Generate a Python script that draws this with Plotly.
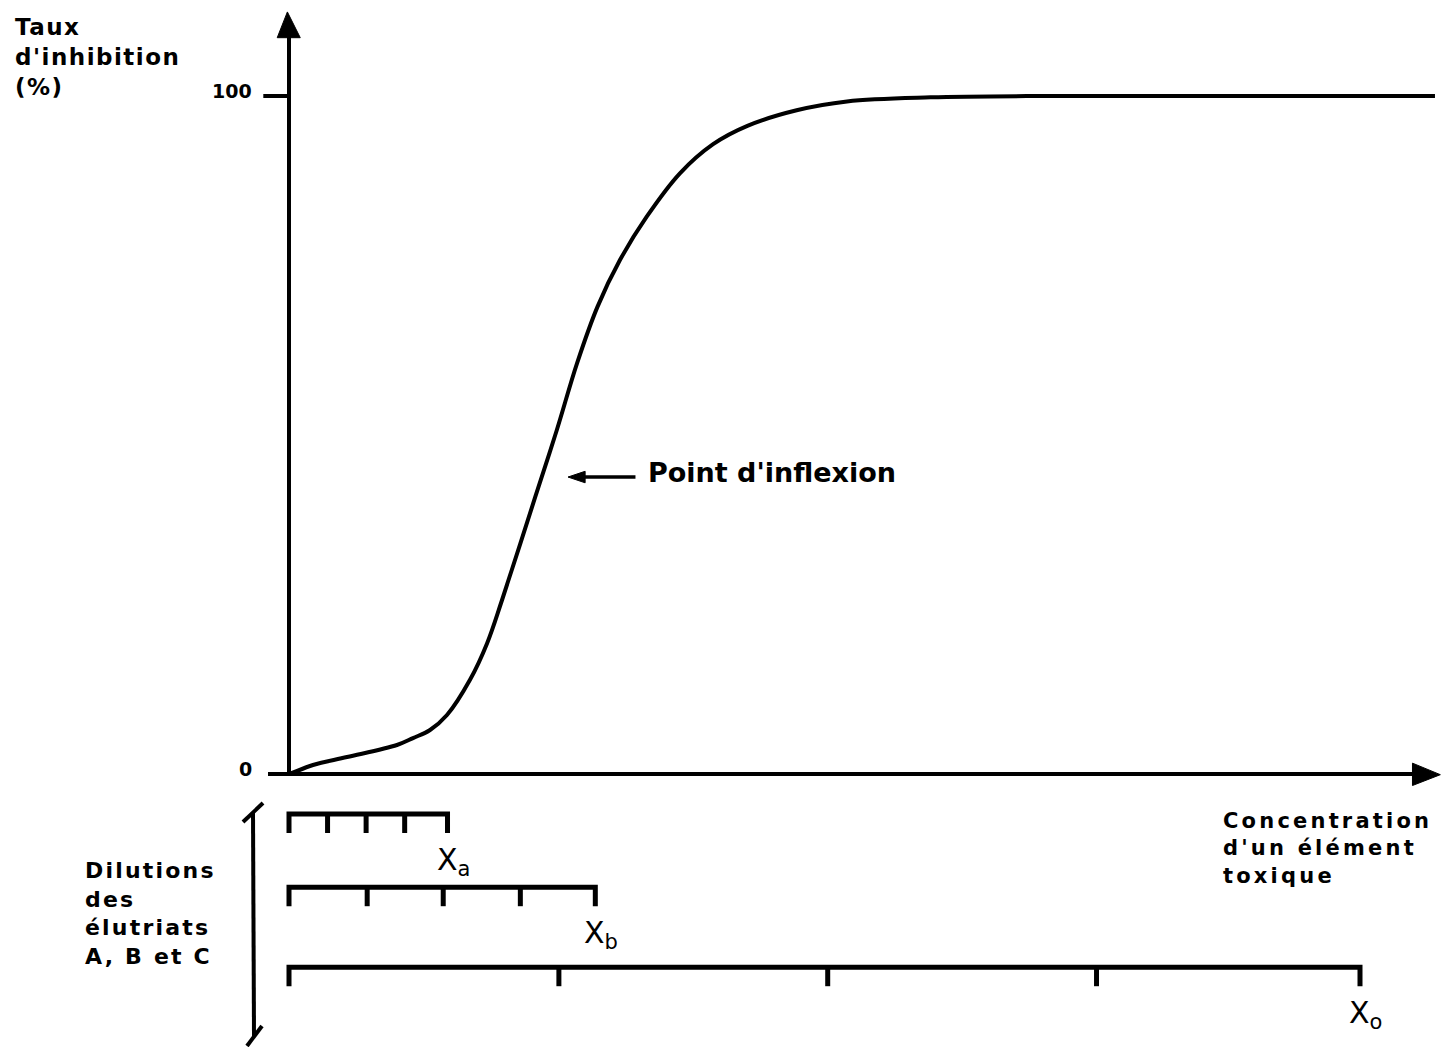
import plotly.graph_objects as go

# ---- data -------------------------------------------------------------
# Dose-response curve: inhibition (%) vs. concentration of a toxic element
conc = [0.0, 0.28, 2.24, 5.42, 10.08, 11.58, 13.17, 14.75, 16.9, 18.5, 19.9,
        23.0, 25.0, 26.9, 28.8, 30.9, 33.4, 36.5, 39.6, 42.8, 47.4, 52.1,
        59.9, 71.1, 107.0]
inhib = [0.0, 0.15, 1.33, 2.5, 4.28, 5.3, 6.49, 8.7, 13.9, 19.3, 25.7,
         40.9, 50.7, 60.6, 68.9, 75.8, 82.2, 88.6, 92.9, 95.6, 97.9, 99.2,
         99.8, 100.0, 100.0]

# Dilution series of elutriates A, B and C (tick positions on the concentration scale)
dil_a = [0.0, 3.6, 7.2, 10.8, 14.8]
dil_b = [0.0, 7.3, 14.4, 21.6, 28.6]
dil_c = [0.0, 25.2, 50.3, 75.4, 100.0]
dil_names = ["X<sub>a</sub>", "X<sub>b</sub>", "X<sub>o</sub>"]

y_ticks = [0, 100]
y_tick_text = ["0", "100"]

inflexion = (26.05, 43.8)

# ---- page geometry ----------------------------------------------------
W, H = 1445, 1047
X0_PX, Y0_PX = 289, 774          # where the origin sits on the page
PX_PER_X, PX_PER_Y = 10.71, 6.78
x_range = [-X0_PX / PX_PER_X, (W - X0_PX) / PX_PER_X]
y_range = [-(H - Y0_PX) / PX_PER_Y, Y0_PX / PX_PER_Y]


def px(p):
    return p / W


def py(q):
    return 1 - q / H


INK = "#000000"
FONT = "DejaVu Sans"

fig = go.Figure()

# sigmoid curve
fig.add_trace(go.Scatter(x=conc, y=inhib, mode="lines",
                         line=dict(color=INK, width=4, shape="spline", smoothing=1.0),
                         hoverinfo="skip", showlegend=False))

# dilution scales below the concentration axis
scale_levels = [-5.9, -16.7, -28.5]
tick_len = 2.8
for ticks, lvl in zip([dil_a, dil_b, dil_c], scale_levels):
    xs = [ticks[0], ticks[0], ticks[-1], ticks[-1]]
    ys = [lvl - tick_len, lvl, lvl, lvl - tick_len]
    for t in ticks[1:-1]:
        xs += [None, t, t]
        ys += [None, lvl, lvl - tick_len]
    fig.add_trace(go.Scatter(x=xs, y=ys, mode="lines",
                             line=dict(color=INK, width=5),
                             hoverinfo="skip", showlegend=False))

shapes = []
# y axis with arrow
shapes.append(dict(type="line", xref="x", yref="y", x0=0, y0=-0.3, x1=0, y1=109.5,
                   line=dict(color=INK, width=4)))
shapes.append(dict(type="path", xref="x", yref="y",
                   path="M -1.1,108.6 L 1.05,108.6 L -0.15,112.4 Z",
                   fillcolor=INK, line=dict(color=INK, width=1)))
# x axis with arrow
shapes.append(dict(type="line", xref="x", yref="y", x0=-1.96, y0=0, x1=105.5, y1=0,
                   line=dict(color=INK, width=4)))
shapes.append(dict(type="path", xref="x", yref="y",
                   path="M 104.9,1.6 L 104.9,-1.7 L 107.5,-0.1 Z",
                   fillcolor=INK, line=dict(color=INK, width=1)))
# tick at 100 %
shapes.append(dict(type="line", xref="x", yref="y", x0=-2.4, y0=100, x1=0, y1=100,
                   line=dict(color=INK, width=4)))

# pointer towards the inflexion point
ix, iy = inflexion
shapes.append(dict(type="line", xref="x", yref="y", x0=ix + 1.0, y0=iy, x1=ix + 6.3, y1=iy,
                   line=dict(color=INK, width=3.5)))
shapes.append(dict(type="path", xref="x", yref="y",
                   path=f"M {ix},{iy} L {ix + 1.6},{iy + 0.85} L {ix + 1.6},{iy - 0.85} Z",
                   fillcolor=INK, line=dict(color=INK, width=1)))

# bracket grouping the dilution scales
shapes.append(dict(type="line", xref="paper", yref="paper",
                   x0=px(253), y0=py(812), x1=px(254), y1=py(1036),
                   line=dict(color=INK, width=4)))
shapes.append(dict(type="line", xref="paper", yref="paper",
                   x0=px(243), y0=py(822), x1=px(263), y1=py(803),
                   line=dict(color=INK, width=4)))
shapes.append(dict(type="line", xref="paper", yref="paper",
                   x0=px(247), y0=py(1046), x1=px(262), y1=py(1026),
                   line=dict(color=INK, width=4)))

annotations = []


def spaced(text, sp):
    return "<br>".join(f'<span style="letter-spacing:{sp}px">{line}</span>'
                       for line in text.split("<br>"))


# axis titles
annotations.append(dict(xref="paper", yref="paper", x=px(13), y=py(12),
                        xanchor="left", yanchor="top", align="left", showarrow=False,
                        text=spaced("Taux<br>d'inhibition<br>(%)", 1.5),
                        font=dict(family=FONT, size=23, color=INK, weight="bold")))
annotations.append(dict(xref="paper", yref="paper", x=px(1221), y=py(807),
                        xanchor="left", yanchor="top", align="left", showarrow=False,
                        text=spaced("Concentration<br>d'un élément<br>toxique", 3.2),
                        font=dict(family=FONT, size=21, color=INK, weight="bold")))
annotations.append(dict(xref="paper", yref="paper", x=px(83), y=py(856),
                        xanchor="left", yanchor="top", align="left", showarrow=False,
                        text=spaced("Dilutions<br>des<br>élutriats<br>A, B et C", 2.2),
                        font=dict(family=FONT, size=22, color=INK, weight="bold")))

# y tick labels
for v, t in zip(y_ticks, y_tick_text):
    annotations.append(dict(xref="x", yref="y", x=-3.3, y=v + 0.7,
                            xanchor="right", yanchor="middle", showarrow=False,
                            text=t, font=dict(family=FONT, size=19, color=INK, weight="bold")))

# end-of-scale labels
for ticks, lvl, name in zip([dil_a, dil_b, dil_c], scale_levels, dil_names):
    annotations.append(dict(xref="x", yref="y", x=ticks[-1] - 1.2, y=lvl - tick_len - 1.0,
                            xanchor="left", yanchor="top", showarrow=False,
                            text=name, font=dict(family=FONT, size=30, color=INK)))

# inflexion point label
annotations.append(dict(xref="x", yref="y", x=ix + 7.3, y=iy + 0.6,
                        xanchor="left", yanchor="middle", showarrow=False,
                        text="Point d'inflexion",
                        font=dict(family=FONT, size=27, color=INK, weight="bold")))

fig.update_layout(
    width=W, height=H, autosize=False,
    margin=dict(l=0, r=0, t=0, b=0, pad=0),
    paper_bgcolor="white", plot_bgcolor="white",
    xaxis=dict(range=x_range, visible=False, fixedrange=True),
    yaxis=dict(range=y_range, visible=False, fixedrange=True),
    shapes=shapes, annotations=annotations, showlegend=False,
)

fig.write_html("out.html")
